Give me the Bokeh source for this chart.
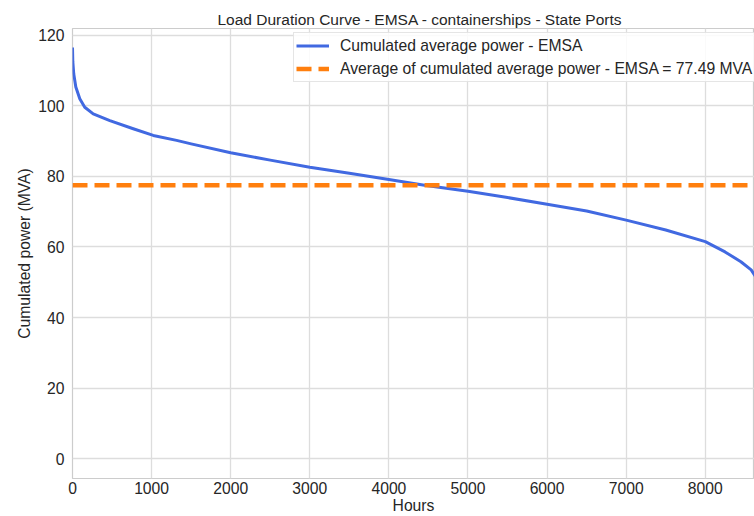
from bokeh.plotting import figure
from bokeh.models import Range1d, FixedTicker, Legend, LegendItem
from bokeh.embed import file_html
from bokeh.resources import INLINE

# Load duration curve: hours of the year sorted by descending power
hours = [0, 4, 16, 42, 92, 155, 262, 472, 768, 1021, 1316, 1500, 2000, 2500,
         3000, 3500, 4000, 4450, 5000, 5500, 6000, 6500, 7000, 7500, 8000,
         8250, 8450, 8580, 8630, 8700, 8760]
mva = [116.5, 112.5, 109.0, 105.3, 102.0, 99.6, 97.7, 95.8, 93.5, 91.6, 90.2,
       89.2, 86.7, 84.6, 82.6, 80.9, 79.1, 77.5, 75.8, 74.0, 72.1, 70.2, 67.6,
       64.8, 61.5, 58.6, 55.8, 53.5, 51.8, 49.0, 45.0]
average_mva = 77.49

x_ticks = [0, 1000, 2000, 3000, 4000, 5000, 6000, 7000, 8000]
y_ticks = [0, 20, 40, 60, 80, 100, 120]

FONT = "Liberation Sans"
TEXT = "#262626"
FS = "15.7px"

p = figure(width=754, height=516, output_backend="svg", toolbar_location=None,
           x_range=Range1d(0, 8622), y_range=Range1d(-5.6, 121.9),
           min_border_left=72, min_border_right=0, min_border_top=28,
           min_border_bottom=37)

p.title.text = "Load Duration Curve - EMSA - containerships - State Ports"
p.title.align = "left"
p.title.offset = 145
p.title.standoff = 2
p.title.text_font = FONT
p.title.text_font_size = "15.5px"
p.title.text_font_style = "normal"
p.title.text_color = TEXT

p.background_fill_color = "white"
p.border_fill_color = "white"
p.outline_line_color = "#cccccc"
p.outline_line_width = 1.2

for ax in (p.xaxis[0], p.yaxis[0]):
    ax.axis_line_color = None
    ax.major_tick_line_color = None
    ax.minor_tick_line_color = None
    ax.major_tick_out = 0
    ax.major_tick_in = 0
    ax.major_label_text_font = FONT
    ax.major_label_text_font_size = FS
    ax.major_label_text_color = TEXT
    ax.axis_label_text_font = FONT
    ax.axis_label_text_font_size = FS
    ax.axis_label_text_font_style = "normal"
    ax.axis_label_text_color = TEXT

p.xaxis.axis_label = "Hours"
p.xaxis.ticker = FixedTicker(ticks=x_ticks)
p.xaxis.major_label_standoff = 3
p.xaxis.axis_label_standoff = 0

p.yaxis.axis_label = "Cumulated power (MVA)"
p.yaxis.ticker = FixedTicker(ticks=y_ticks)
p.yaxis.major_label_standoff = 8
p.yaxis.axis_label_standoff = 2

p.xgrid.grid_line_color = "#dddddd"
p.ygrid.grid_line_color = "#dddddd"
p.xgrid.grid_line_width = 1.3
p.ygrid.grid_line_width = 1.3

curve = p.line(hours, mva, line_color="#4169e1", line_width=3,
               line_join="round")
avg = p.line([0, 8760], [average_mva, average_mva], line_color="#ff7f0e",
             line_width=4.5, line_dash="15 7")

legend = Legend(items=[
    LegendItem(label="Cumulated average power - EMSA", renderers=[curve]),
    LegendItem(label="Average of cumulated average power - EMSA = %.2f MVA" % average_mva,
               renderers=[avg]),
], location=(221, 396))
legend.label_text_font = FONT
legend.label_text_font_size = FS
legend.label_text_color = TEXT
legend.glyph_width = 33
legend.glyph_height = 21
legend.label_height = 21
legend.label_standoff = 11
legend.spacing = 2
legend.padding = 2
legend.margin = 0
legend.border_line_color = "#cccccc"
legend.background_fill_alpha = 0.85
p.add_layout(legend, "center")

open("out.html", "w").write(file_html(p, INLINE))
